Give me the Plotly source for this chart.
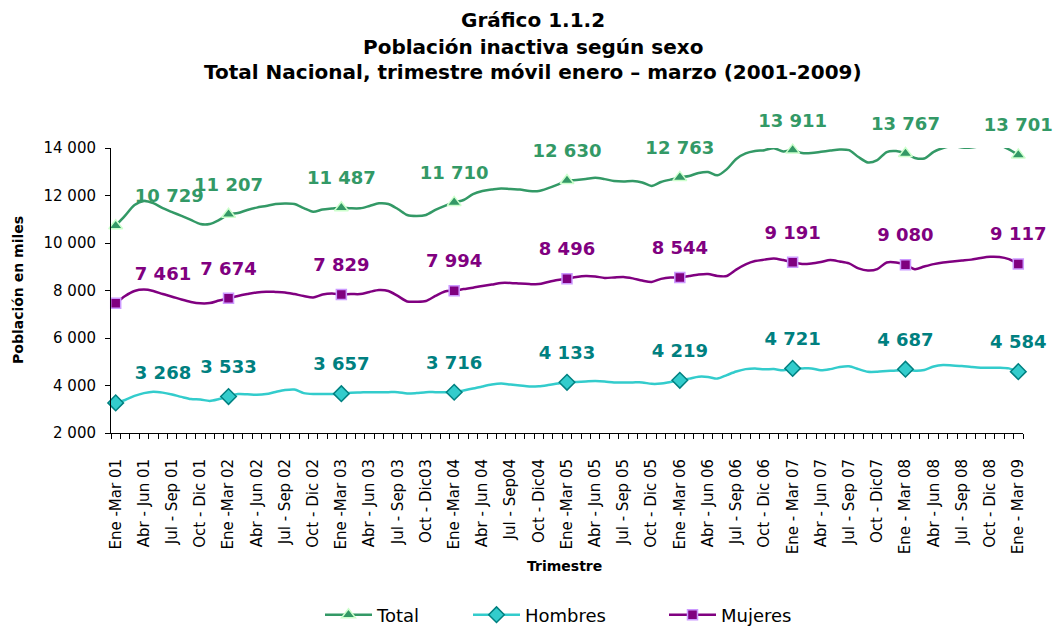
import plotly.graph_objects as go

# ---------------- data ----------------
# monthly moving quarters, Ene-Mar 2001 ... Ene-Mar 2009 (97 points)
idx = list(range(97))

total = [10729, 11150, 11600, 11770, 11680, 11470, 11300, 11140, 10970, 10800, 10800, 10970,
         11207, 11260, 11390, 11490, 11560, 11640, 11660, 11640, 11470, 11320, 11410, 11450,
         11487, 11460, 11460, 11560, 11670, 11640, 11430, 11180, 11140, 11180, 11390, 11560,
         11710, 11810, 12060, 12190, 12250, 12300, 12270, 12250, 12190, 12190, 12310, 12460,
         12630, 12650, 12690, 12750, 12690, 12610, 12590, 12610, 12550, 12400, 12570, 12670,
         12763, 12820, 12950, 12990, 12850, 13110, 13540, 13770, 13870, 13910, 13990, 13850,
         13911, 13790, 13790, 13840, 13890, 13940, 13910, 13620, 13390, 13490, 13830, 13870,
         13767, 13580, 13560, 13840, 14000, 14080, 14020, 14020, 14080, 14120, 14120, 13940,
         13701]

hombres = [3268, 3390, 3560, 3680, 3740, 3700, 3620, 3520, 3430, 3410, 3350, 3430,
           3533, 3640, 3630, 3610, 3640, 3730, 3810, 3830, 3680, 3640, 3640, 3640,
           3657, 3700, 3710, 3720, 3720, 3720, 3720, 3660, 3680, 3720, 3720, 3720,
           3716, 3790, 3870, 3960, 4040, 4080, 4040, 4000, 3960, 3970, 4020, 4080,
           4133, 4150, 4170, 4190, 4170, 4130, 4130, 4130, 4130, 4070, 4080, 4150,
           4219, 4290, 4370, 4360, 4290, 4440, 4590, 4690, 4720, 4680, 4690, 4640,
           4721, 4720, 4720, 4640, 4690, 4780, 4810, 4690, 4580, 4580, 4610, 4630,
           4687, 4620, 4650, 4800, 4860, 4840, 4820, 4780, 4750, 4750, 4750, 4720,
           4584]

mujeres = [7461, 7770, 7980, 8040, 7980, 7850, 7740, 7620, 7520, 7460, 7470, 7580,
           7674, 7770, 7850, 7920, 7950, 7940, 7920, 7850, 7770, 7710, 7830, 7870,
           7829, 7850, 7850, 7940, 8020, 7980, 7770, 7540, 7530, 7560, 7770, 7960,
           7994, 8060, 8120, 8190, 8250, 8320, 8320, 8290, 8270, 8270, 8360, 8440,
           8496, 8570, 8610, 8590, 8530, 8550, 8570, 8510, 8420, 8360, 8490, 8550,
           8544, 8610, 8670, 8690, 8610, 8610, 8880, 9100, 9240, 9300, 9350, 9280,
           9191, 9120, 9140, 9200, 9280, 9220, 9140, 8930, 8840, 8900, 9180, 9180,
           9080, 8900, 9010, 9110, 9180, 9220, 9260, 9300, 9370, 9420, 9410, 9320,
           9117]

tick_labels = ["Ene -Mar 01", "Abr - Jun 01", "Jul - Sep 01", "Oct - Dic 01",
               "Ene -Mar 02", "Abr - Jun 02", "Jul - Sep 02", "Oct - Dic 02",
               "Ene -Mar 03", "Abr - Jun 03", "Jul - Sep 03", "Oct - Dic03",
               "Ene -Mar 04", "Abr - Jun 04", "Jul - Sep04", "Oct - Dic04",
               "Ene -Mar 05", "Abr - Jun 05", "Jul - Sep 05", "Oct - Dic 05",
               "Ene -Mar 06", "Abr - Jun 06", "Jul - Sep 06", "Oct - Dic 06",
               "Ene - Mar 07", "Abr - Jun 07", "Jul - Sep 07", "Oct - Dic07",
               "Ene - Mar 08", "Abr - Jun 08", "Jul - Sep 08", "Oct - Dic 08",
               "Ene - Mar 09"]
tick_pos = idx[::3]
mark_pos = idx[::12]

y_ticks = [2000, 4000, 6000, 8000, 10000, 12000, 14000]

# ---------------- layout helpers ----------------
W, H = 1053, 627
L, R, T, B = 111, 30, 148, 194
PW, PH = W - L - R, H - T - B
FONT = "DejaVu Sans"


def px_x(px):
    return (px - L) / PW


def px_y(py):
    return (H - B - py) / PH


def fmt(v):
    return f"{v:,}".replace(",", " ")


styles = [
    # name, values, line color, symbol, fill, border, label color, marker size, legend
    ("Total", total, "#339966", "triangle-up", "#339966", "#CCFFCC", "#339966", 12, "legend"),
    ("Hombres", hombres, "#33CCCC", "diamond", "#33CCCC", "#008080", "#008080", 12, "legend2"),
    ("Mujeres", mujeres, "#800080", "square", "#800080", "#CC99FF", "#800080", 10, "legend3"),
]

fig = go.Figure()
for name, vals, lc, sym, fill, border, lblc, msize, leg in styles:
    mvals = vals[::12]
    fig.add_trace(go.Scatter(
        x=idx, y=vals, mode="lines", showlegend=False, cliponaxis=False,
        line=dict(color=lc, width=2.5, shape="spline", smoothing=0.8),
        hoverinfo="skip"))
    fig.add_trace(go.Scatter(
        x=mark_pos, y=mvals, mode="markers", showlegend=False, cliponaxis=False,
        marker=dict(symbol=sym, size=msize, color=fill, line=dict(color=border, width=1.5)),
        name=name))
    fig.add_trace(go.Scatter(
        x=mark_pos, y=mvals, mode="markers+text", showlegend=False, cliponaxis=False,
        marker=dict(size=29, color="rgba(0,0,0,0)"),
        text=[fmt(v) for v in mvals],
        textposition=["top right"] + ["top center"] * (len(mvals) - 1),
        textfont=dict(family=FONT, size=18, color=lblc, weight="bold"),
        hoverinfo="skip"))
    fig.add_trace(go.Scatter(
        x=[None], y=[None], mode="lines+markers", name=name, legend=leg,
        line=dict(color=lc, width=2.5),
        marker=dict(symbol=sym, size=msize, color=fill, line=dict(color=border, width=1.5))))

leg_common = dict(orientation="h", yanchor="middle", y=px_y(615), xanchor="left",
                  font=dict(family=FONT, size=18, color="black"),
                  bgcolor="rgba(0,0,0,0)", itemwidth=47, borderwidth=0)

title_lines = [("Gráfico 1.1.2", 20), ("Población inactiva según sexo", 47),
               ("Total Nacional, trimestre móvil enero – marzo (2001-2009)", 72)]
annotations = []
for txt, py in title_lines:
    annotations.append(dict(text=txt, xref="paper", yref="paper", x=px_x(533), y=px_y(py),
                            xanchor="center", yanchor="middle", showarrow=False,
                            font=dict(family=FONT, size=20, color="black", weight="bold")))
annotations.append(dict(text="Trimestre", xref="paper", yref="paper", x=px_x(564), y=px_y(566),
                        xanchor="center", yanchor="middle", showarrow=False,
                        font=dict(family=FONT, size=14, color="black", weight="bold")))
annotations.append(dict(text="Población en miles", xref="paper", yref="paper", x=px_x(18),
                        y=px_y(290), xanchor="center", yanchor="middle", showarrow=False,
                        textangle=-90,
                        font=dict(family=FONT, size=14, color="black", weight="bold")))

fig.update_layout(
    width=W, height=H, autosize=False,
    margin=dict(l=L, r=R, t=T, b=B, pad=0, autoexpand=False),
    paper_bgcolor="white", plot_bgcolor="white",
    font=dict(family=FONT, color="black"),
    annotations=annotations,
    legend=dict(leg_common, x=px_x(320)),
    legend2=dict(leg_common, x=px_x(468)),
    legend3=dict(leg_common, x=px_x(664)),
    xaxis=dict(range=[-0.5, 96.5], showgrid=False, zeroline=False,
               showline=True, linecolor="black", linewidth=1,
               tickmode="array", tickvals=tick_pos, ticktext=tick_labels,
               tickangle=-90, ticks="", ticklabelstandoff=19,
               tickfont=dict(family=FONT, size=15, color="black"),
               minor=dict(tickmode="linear", tick0=-0.5, dtick=1, ticks="outside",
                          ticklen=5, tickcolor="black", tickwidth=1, showgrid=False)),
    yaxis=dict(range=[2000, 14000], showgrid=False, zeroline=False,
               showline=True, linecolor="black", linewidth=1,
               tickmode="array", tickvals=y_ticks, ticktext=[fmt(v) for v in y_ticks],
               ticks="outside", ticklen=5, tickcolor="black", ticklabelstandoff=6,
               tickfont=dict(family=FONT, size=15, color="black")),
)

fig.write_html("out.html", config={"displayModeBar": False},
               post_script="document.body.style.margin='0';document.body.style.overflow='hidden';")
